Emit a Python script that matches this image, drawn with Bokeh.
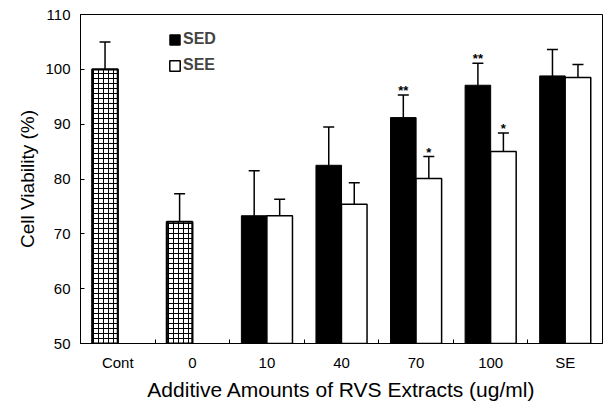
from bokeh.plotting import figure
from bokeh.models import (ColumnDataSource, Range1d, FixedTicker, Whisker, TeeHead,
                          Legend, LegendItem)
from bokeh.core.properties import value
from bokeh.embed import file_html
from bokeh.resources import INLINE

# ---- data ----
categories = ["Cont", "0", "10", "40", "70", "100", "SE"]
control_cats = ["Cont", "0"]
control_vals = [100.0, 72.2]
control_tops = [105.0, 77.3]

dose_cats = ["10", "40", "70", "100", "SE"]
sed_vals = [73.3, 82.5, 91.2, 97.1, 98.8]
sed_tops = [81.5, 89.5, 95.3, 101.1, 103.6]
see_vals = [73.3, 75.4, 80.1, 85.0, 98.5]
see_tops = [76.3, 79.3, 84.1, 88.4, 100.9]

sed_marks = ["", "", "**", "**", ""]
see_marks = ["", "", "*", "*", ""]

y_ticks = [50, 60, 70, 80, 90, 100, 110]

# ---- layout helpers (category index -> axis units) ----
idx = {c: i for i, c in enumerate(categories)}
BW = 0.343
OFF = 0.171
centers = [i + 0.5 for i in range(len(categories))]
bounds = [float(i) for i in range(1, len(categories))]

FONT = "Liberation Sans"

p = figure(width=604, height=403, output_backend="svg", toolbar_location=None,
           x_range=Range1d(0, len(categories)), y_range=Range1d(50, 110),
           min_border_left=80, min_border_right=2, min_border_top=14, min_border_bottom=56)
p.xgrid.visible = False
p.ygrid.visible = False
p.outline_line_color = "black"
p.outline_line_width = 1
p.background_fill_color = "white"
p.border_fill_color = "white"

ctrl_src = ColumnDataSource(dict(x=[idx[c] + 0.5 - OFF for c in control_cats],
                                 v=control_vals, top=control_tops))
sed_src = ColumnDataSource(dict(x=[idx[c] + 0.5 - OFF for c in dose_cats],
                                v=sed_vals, top=sed_tops, m=sed_marks))
see_src = ColumnDataSource(dict(x=[idx[c] + 0.5 + OFF for c in dose_cats],
                                v=see_vals, top=see_tops, m=see_marks))

p.vbar(x="x", top="v", bottom=50, width=BW, source=ctrl_src,
       fill_color="white", line_color="black", line_width=2.2,
       hatch_pattern="+", hatch_color="black", hatch_scale=5, hatch_weight=1)
r_sed = p.vbar(x="x", top="v", bottom=50, width=BW, source=sed_src,
               fill_color="black", line_color="black", line_width=1)
r_see = p.vbar(x="x", top="v", bottom=50, width=BW, source=see_src,
               fill_color="white", line_color="black", line_width=1.5)

for src in (ctrl_src, sed_src, see_src):
    w = Whisker(source=src, base="x", lower="v", upper="top", dimension="height",
                line_color="black", line_width=1.5,
                upper_head=TeeHead(size=11, line_color="black", line_width=1.5),
                lower_head=None)
    p.add_layout(w)

for src in (sed_src, see_src):
    p.text(x="x", y="top", text="m", source=src, text_align="center",
           text_baseline="bottom", text_font=value(FONT), text_font_size="13px",
           text_font_style="bold", text_color="black", y_offset=3)

# ---- axes ----
xa = p.xaxis[0]
xa.ticker = FixedTicker(ticks=centers, minor_ticks=bounds)
xa.major_label_overrides = {c: lab for c, lab in zip(centers, categories)}
xa.major_tick_in = 0
xa.major_tick_out = 0
xa.minor_tick_in = 4
xa.minor_tick_out = 0
xa.major_label_standoff = 10
xa.axis_label = "Additive Amounts of RVS Extracts (ug/ml)"
xa.axis_label_standoff = 4

ya = p.yaxis[0]
ya.ticker = FixedTicker(ticks=y_ticks)
ya.major_tick_in = 4
ya.major_tick_out = 0
ya.minor_tick_line_color = None
ya.major_label_standoff = 10
ya.axis_label = "Cell Viability (%)"
ya.axis_label_standoff = 4

for ax in (xa, ya):
    ax.axis_line_color = "black"
    ax.axis_line_width = 1
    ax.major_tick_line_color = "black"
    ax.major_label_text_font = FONT
    ax.major_label_text_font_size = "15px"
    ax.major_label_text_color = "black"
    ax.axis_label_text_font = FONT
    ax.axis_label_text_font_style = "normal"
    ax.axis_label_text_color = "black"
xa.axis_label_text_font_size = "21px"
ya.axis_label_text_font_size = "19px"
xa.minor_tick_line_color = "black"

legend = Legend(items=[LegendItem(label="SED", renderers=[r_sed]),
                       LegendItem(label="SEE", renderers=[r_see])],
                location=(88, 268), padding=0, spacing=6, margin=0,
                glyph_width=13, glyph_height=13, label_standoff=2, label_height=20,
                label_text_font=FONT, label_text_font_size="16px",
                label_text_font_style="bold",
                background_fill_alpha=0, border_line_color=None)
p.add_layout(legend)

open("out.html", "w").write(file_html(p, INLINE))
